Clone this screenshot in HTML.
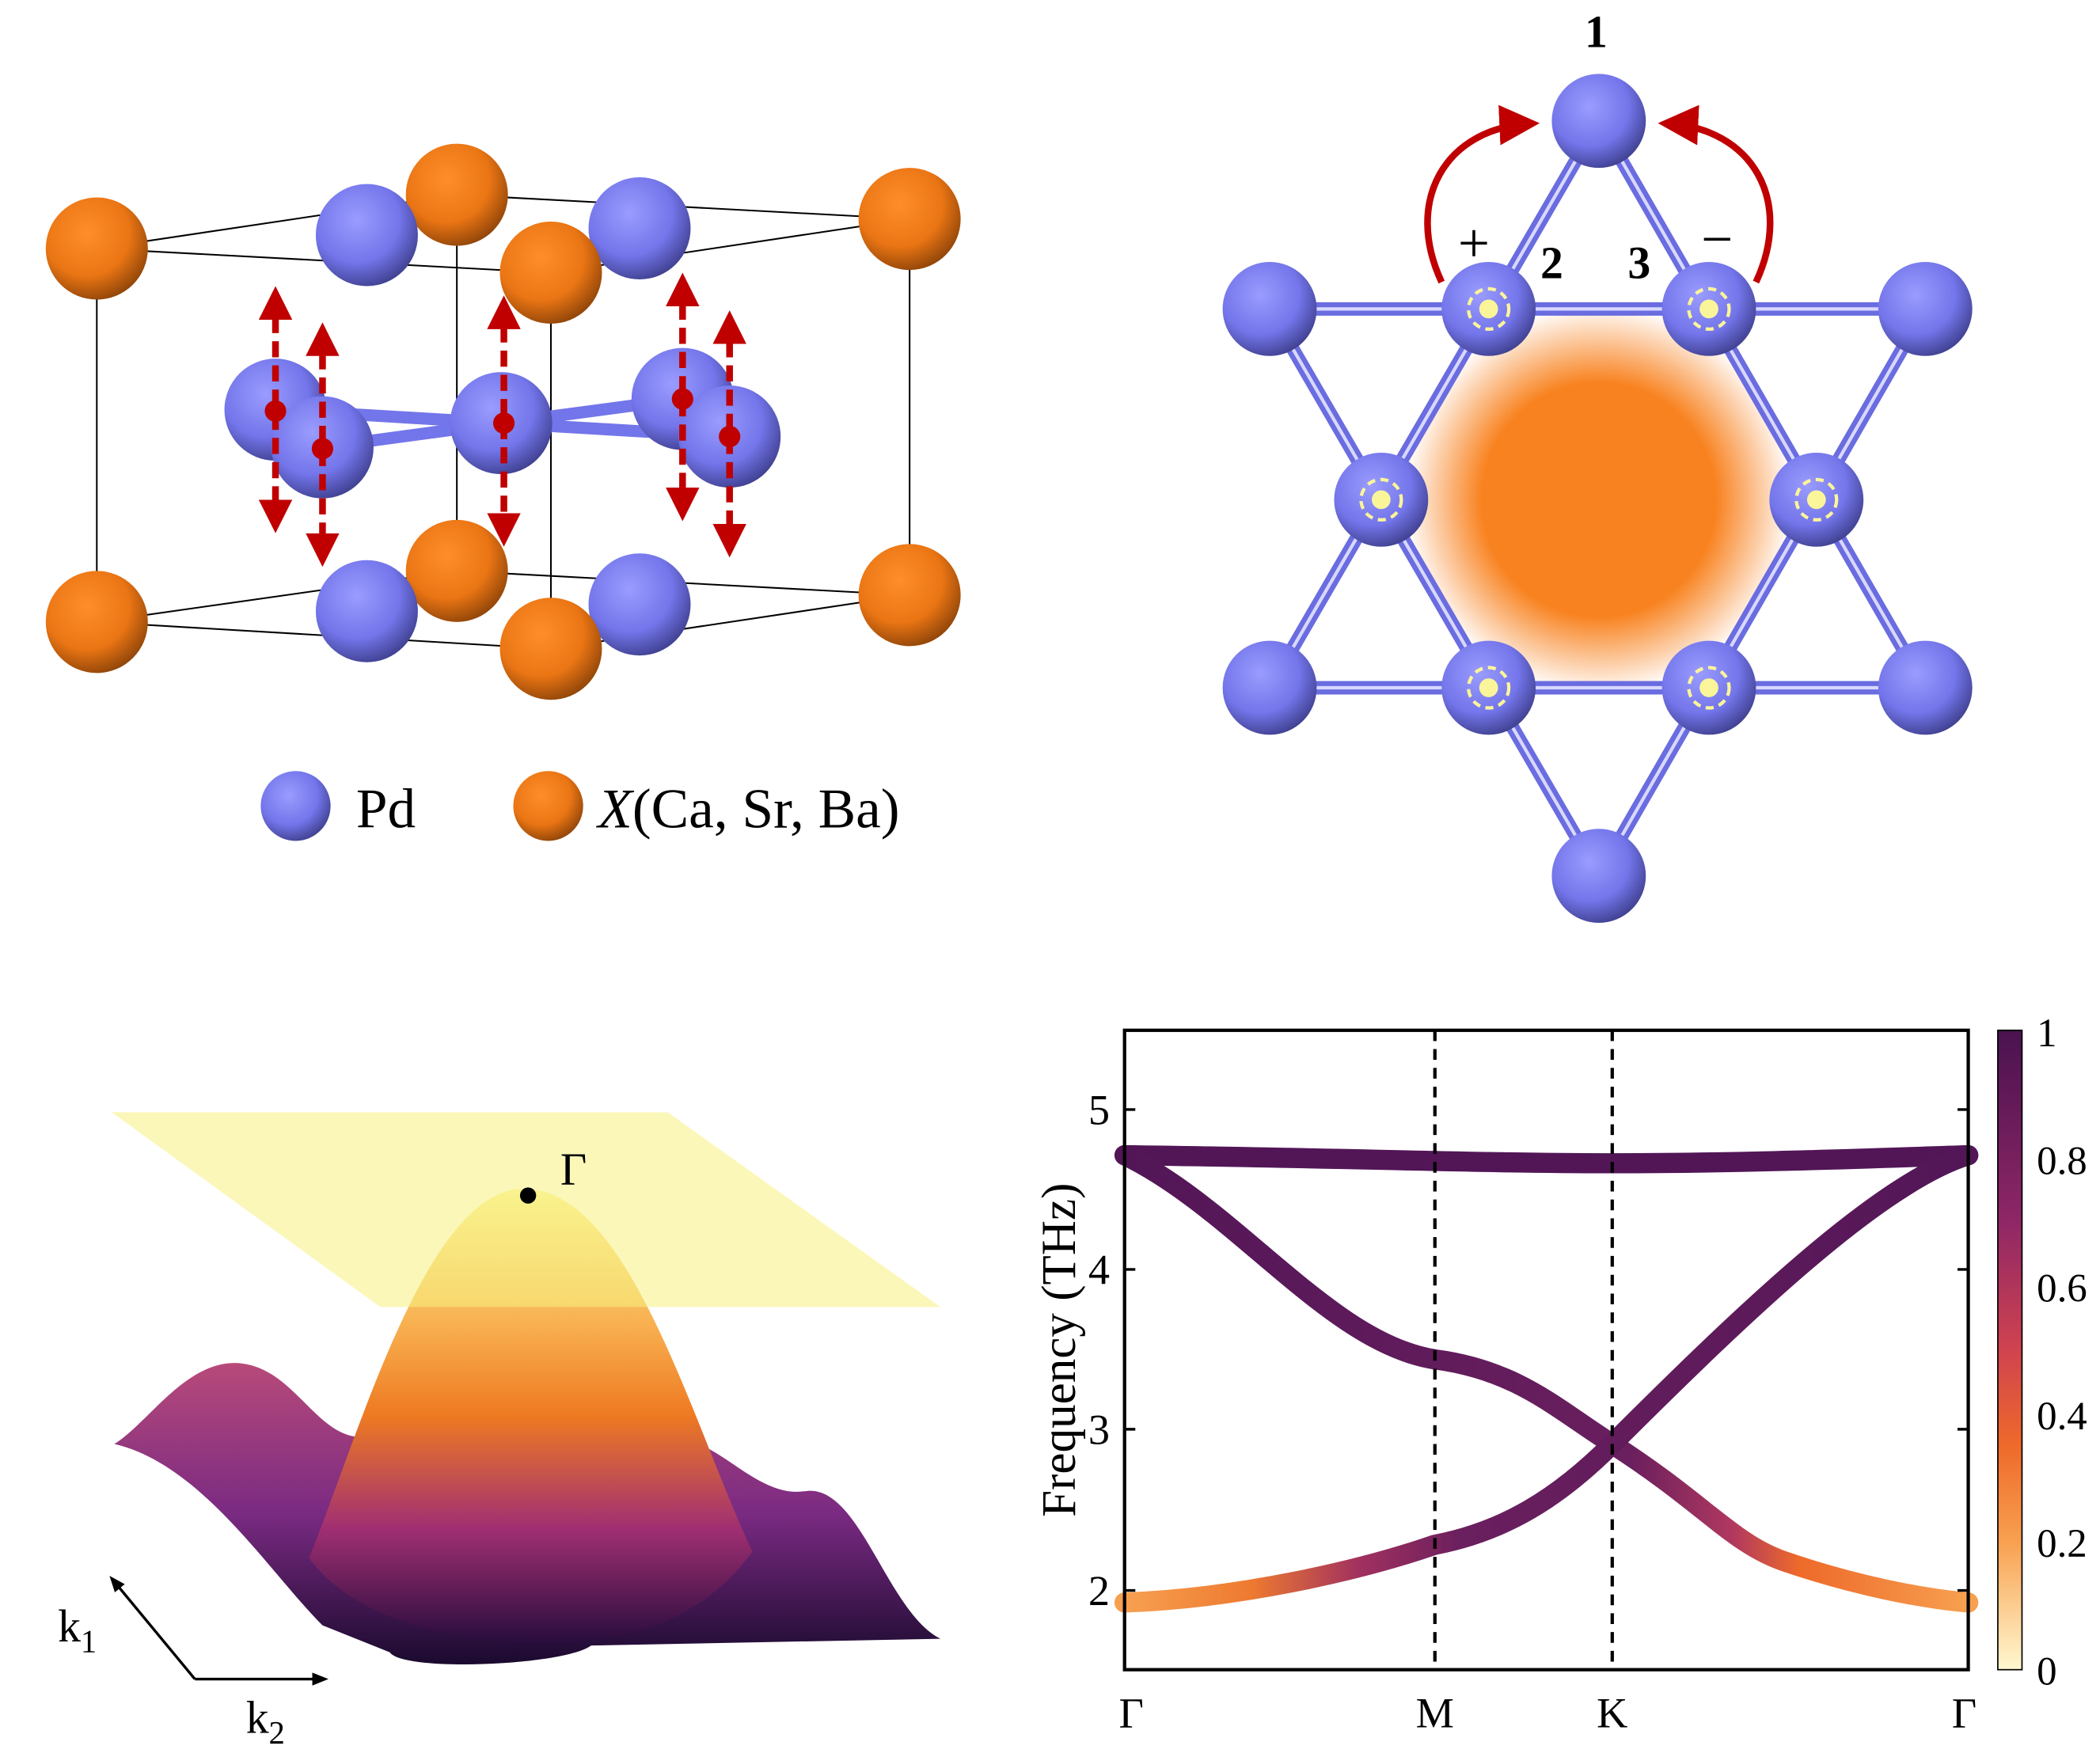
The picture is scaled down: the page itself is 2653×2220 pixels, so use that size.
<!DOCTYPE html>
<html><head><meta charset="utf-8"><style>
html,body{margin:0;padding:0;background:#fff;}
svg{display:block;font-family:"Liberation Serif",serif;}
</style></head><body>
<svg width="2653" height="2220" viewBox="0 0 1563 1308" xmlns="http://www.w3.org/2000/svg">
<defs>
<radialGradient id="gb" cx="0.4" cy="0.35" r="0.7"><stop offset="0" stop-color="#9a9cff"/><stop offset="0.6" stop-color="#7375ea"/><stop offset="1" stop-color="#3c3d8a"/></radialGradient>
<radialGradient id="go" cx="0.4" cy="0.35" r="0.7"><stop offset="0" stop-color="#ff8e2a"/><stop offset="0.6" stop-color="#ea7514"/><stop offset="1" stop-color="#8a4208"/></radialGradient>
<radialGradient id="glow" cx="0.5" cy="0.5" r="0.5"><stop offset="0" stop-color="#f8821f"/><stop offset="0.6" stop-color="#f8821f"/><stop offset="1" stop-color="#f8821f" stop-opacity="0"/></radialGradient>
<linearGradient id="cb" x1="0" y1="1" x2="0" y2="0"><stop offset="0" stop-color="#fff8d0"/><stop offset="0.2" stop-color="#f8a050"/><stop offset="0.35" stop-color="#ee6a2a"/><stop offset="0.5" stop-color="#d0434f"/><stop offset="0.7" stop-color="#8f2766"/><stop offset="1" stop-color="#4a1250"/></linearGradient>
<linearGradient id="c2" gradientUnits="userSpaceOnUse" x1="837" y1="0" x2="1465" y2="0"><stop offset="0" stop-color="#521657"/><stop offset="0.6" stop-color="#6a1f5e"/><stop offset="0.72" stop-color="#b0385f"/><stop offset="0.8" stop-color="#ee6a2a"/><stop offset="1" stop-color="#f7a050"/></linearGradient>
<linearGradient id="c3" gradientUnits="userSpaceOnUse" x1="837" y1="0" x2="1465" y2="0"><stop offset="0" stop-color="#f7a050"/><stop offset="0.15" stop-color="#ee7a30"/><stop offset="0.28" stop-color="#a0305f"/><stop offset="0.4" stop-color="#6a1f5e"/><stop offset="1" stop-color="#521657"/></linearGradient>
<linearGradient id="peak" x1="0" y1="0" x2="0" y2="1"><stop offset="0" stop-color="#fbf6a0"/><stop offset="0.3" stop-color="#f8b050"/><stop offset="0.5" stop-color="#ee7a22"/><stop offset="0.75" stop-color="#a02f72"/><stop offset="1" stop-color="#2a0d3e"/></linearGradient>
<linearGradient id="base" x1="0" y1="0" x2="0" y2="1"><stop offset="0" stop-color="#b84a7a"/><stop offset="0.5" stop-color="#7a2a82"/><stop offset="1" stop-color="#1a0a2e"/></linearGradient>
<marker id="ar2" viewBox="0 0 10 10" refX="8" refY="5" markerWidth="5" markerHeight="5" orient="auto-start-reverse"><path d="M0,0 L10,5 L0,10 z" fill="#c00000"/></marker>
<marker id="ar3" viewBox="0 0 10 10" refX="8" refY="5" markerWidth="6" markerHeight="6" orient="auto"><path d="M0,0 L10,5 L0,10 z" fill="#c00000"/></marker>
<marker id="ak" viewBox="0 0 10 10" refX="8" refY="5" markerWidth="6" markerHeight="6" orient="auto"><path d="M0,1 L10,5 L0,9 z" fill="#000"/></marker>
</defs>

<!-- Panel a -->
<g stroke="#000" stroke-width="1.2" fill="none">
<path d="M72,185 L340,145 L677,163 L410,203 Z"/>
<path d="M72,463 L340,425 L677,443 L410,483 Z"/>
<path d="M72,185V463 M340,145V425 M677,163V443 M410,203V483"/>
</g>
<circle cx="340" cy="145" r="38" fill="url(#go)"/>
<circle cx="273" cy="175" r="38" fill="url(#gb)"/>
<circle cx="476" cy="170" r="38" fill="url(#gb)"/>
<circle cx="72" cy="185" r="38" fill="url(#go)"/>
<circle cx="677" cy="163" r="38" fill="url(#go)"/>
<circle cx="410" cy="203" r="38" fill="url(#go)"/>
<circle cx="340" cy="425" r="38" fill="url(#go)"/>
<g stroke="#7375ea" stroke-width="9" fill="none"><path d="M205,305 L373,315 L508,297 M240,333 L373,315 L543,325"/></g>
<circle cx="205" cy="305" r="38" fill="url(#gb)"/>
<circle cx="508" cy="297" r="38" fill="url(#gb)"/>
<circle cx="240" cy="333" r="38" fill="url(#gb)"/>
<circle cx="373" cy="315" r="38" fill="url(#gb)"/>
<circle cx="543" cy="325" r="38" fill="url(#gb)"/>
<circle cx="273" cy="455" r="38" fill="url(#gb)"/>
<circle cx="476" cy="450" r="38" fill="url(#gb)"/>
<circle cx="72" cy="463" r="38" fill="url(#go)"/>
<circle cx="677" cy="443" r="38" fill="url(#go)"/>
<circle cx="410" cy="483" r="38" fill="url(#go)"/>
<g stroke="#c00000" stroke-width="5" stroke-dasharray="12,6" fill="none" marker-start="url(#ar2)" marker-end="url(#ar2)">
<path d="M205,218V392"/><path d="M240,245V417"/><path d="M375,225V402"/><path d="M508,208V383"/><path d="M543,236V410"/>
</g>
<g fill="#c00000"><circle cx="205" cy="306" r="8"/><circle cx="240" cy="334" r="8"/><circle cx="375" cy="315" r="8"/><circle cx="508" cy="297" r="8"/><circle cx="543" cy="325" r="8"/></g>
<circle cx="220" cy="600" r="26" fill="url(#gb)"/>
<text x="265" y="616" font-size="42">Pd</text>
<circle cx="408" cy="600" r="26" fill="url(#go)"/>
<text x="445" y="616" font-size="42"><tspan font-style="italic">X</tspan>(Ca, Sr, Ba)</text>

<!-- Panel b -->
<circle cx="1190" cy="372" r="145" fill="url(#glow)"/>
<g stroke="#6a6ce0" stroke-width="10" fill="none"><path d="M945,230H1433 M945,512H1433 M945,230L1190,652L1433,230 M1190,90L945,512 M1190,90L1433,512"/></g>
<g stroke="#d8d8ff" stroke-width="2.5" fill="none"><path d="M945,230H1433 M945,512H1433 M945,230L1190,652L1433,230 M1190,90L945,512 M1190,90L1433,512"/></g>
<g fill="url(#gb)">
<circle cx="1190" cy="90" r="35"/><circle cx="945" cy="230" r="35"/><circle cx="1108" cy="230" r="35"/><circle cx="1272" cy="230" r="35"/><circle cx="1433" cy="230" r="35"/>
<circle cx="1028" cy="372" r="35"/><circle cx="1352" cy="372" r="35"/>
<circle cx="945" cy="512" r="35"/><circle cx="1108" cy="512" r="35"/><circle cx="1272" cy="512" r="35"/><circle cx="1433" cy="512" r="35"/><circle cx="1190" cy="652" r="35"/>
</g>
<g fill="none" stroke="#fbf59a" stroke-width="2.5" stroke-dasharray="6,4">
<circle cx="1108" cy="230" r="15"/><circle cx="1272" cy="230" r="15"/><circle cx="1028" cy="372" r="15"/><circle cx="1352" cy="372" r="15"/><circle cx="1108" cy="512" r="15"/><circle cx="1272" cy="512" r="15"/>
</g>
<g fill="#fbf59a"><circle cx="1108" cy="230" r="7"/><circle cx="1272" cy="230" r="7"/><circle cx="1028" cy="372" r="7"/><circle cx="1352" cy="372" r="7"/><circle cx="1108" cy="512" r="7"/><circle cx="1272" cy="512" r="7"/></g>
<g fill="none" stroke="#c00000" stroke-width="5">
<path d="M1073,210 C1045,150 1075,95 1140,92" marker-end="url(#ar3)"/>
<path d="M1307,210 C1335,150 1305,95 1240,92" marker-end="url(#ar3)"/>
</g>
<g font-weight="bold" font-size="34" text-anchor="middle">
<text x="1188" y="35">1</text><text x="1155" y="207">2</text><text x="1220" y="207">3</text>
</g>
<text x="1097" y="195" font-size="42" text-anchor="middle">+</text>
<text x="1278" y="192" font-size="42" text-anchor="middle">−</text>

<!-- Panel c -->
<path d="M85,1075 C110,1060 140,1010 180,1015 C220,1020 235,1070 270,1070 L520,1075 C545,1085 570,1115 600,1110 C640,1105 660,1200 700,1220 L440,1225 C420,1240 300,1245 290,1230 L240,1210 C200,1170 150,1090 85,1075 Z" fill="url(#base)"/>
<path d="M230,1160 C270,1060 320,880 393,885 C470,890 515,1060 560,1155 C520,1210 460,1225 390,1222 C320,1220 260,1200 230,1160 Z" fill="url(#peak)"/>
<path d="M83,828 L497,828 L700,973 L283,973 Z" fill="#f7f080" fill-opacity="0.55"/>
<circle cx="393" cy="890" r="6" fill="#000"/>
<text x="417" y="882" font-size="34">Γ</text>
<g stroke="#000" stroke-width="2" fill="none">
<path d="M145,1250 L242,1250" marker-end="url(#ak)"/>
<path d="M145,1250 L83,1175" marker-end="url(#ak)"/>
</g>
<text x="43" y="1222" font-size="34">k<tspan font-size="24" dy="8">1</tspan></text>
<text x="183" y="1290" font-size="34">k<tspan font-size="24" dy="8">2</tspan></text>

<!-- Panel d -->
<g fill="none" stroke-linecap="round" stroke-width="15">
<path d="M837,860 C1000,862 1100,866 1200,866 C1300,866 1400,862 1465,860" stroke="#521657"/>
<path d="M837,860 C920,900 990,1000 1068,1012 C1130,1020 1160,1050 1200,1075 C1270,1120 1290,1150 1330,1163 C1380,1180 1430,1190 1465,1193" stroke="url(#c2)"/>
<path d="M837,1193 C920,1190 1010,1170 1068,1150 C1120,1140 1160,1115 1200,1075 C1300,975 1400,880 1465,860" stroke="url(#c3)"/>
</g>
<g stroke="#000" stroke-width="2.5" stroke-dasharray="8,6"><path d="M1068,767V1243 M1200,767V1243"/></g>
<rect x="837" y="767" width="628" height="476" fill="none" stroke="#000" stroke-width="2.5"/>
<g stroke="#000" stroke-width="2"><path d="M837,826h8 M837,945h8 M837,1064h8 M837,1184h8 M1465,826h-8 M1465,945h-8 M1465,1064h-8 M1465,1184h-8"/></g>
<g font-size="32" text-anchor="end"><text x="826" y="837">5</text><text x="826" y="956">4</text><text x="826" y="1075">3</text><text x="826" y="1195">2</text></g>
<g font-size="32" text-anchor="middle"><text x="842" y="1286">Γ</text><text x="1068" y="1286">M</text><text x="1200" y="1286">K</text><text x="1462" y="1286">Γ</text></g>
<text transform="translate(800,1005) rotate(-90)" font-size="36" text-anchor="middle">Frequency (THz)</text>
<rect x="1487" y="767" width="18" height="476" fill="url(#cb)" stroke="#000" stroke-width="1"/>
<g font-size="30"><text x="1516" y="779">1</text><text x="1516" y="874">0.8</text><text x="1516" y="969">0.6</text><text x="1516" y="1064">0.4</text><text x="1516" y="1159">0.2</text><text x="1516" y="1254">0</text></g>
</svg>
</body></html>
